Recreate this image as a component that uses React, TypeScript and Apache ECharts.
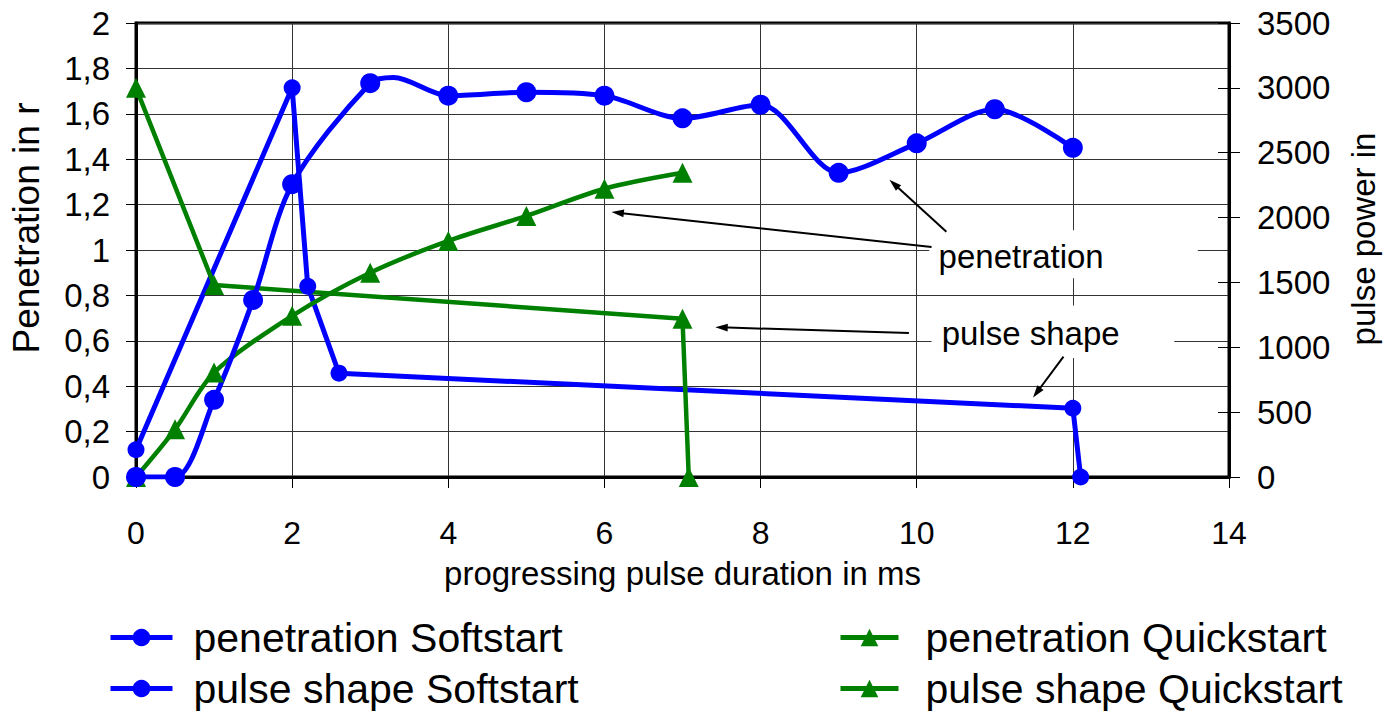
import React, { useEffect, useRef } from "react";
import * as echarts from "echarts";

// ---- data ----
const xTicks = [0, 2, 4, 6, 8, 10, 12, 14];
const penetrationSoftstart: [number, number][] = [
  [0, 0], [0.5, 0], [1, 0.34], [1.5, 0.78], [2, 1.29], [3, 1.735], [4, 1.68],
  [5, 1.695], [6, 1.68], [7, 1.58], [8, 1.64], [9, 1.34], [10, 1.47], [11, 1.62], [12, 1.45],
];
// curve bends between markers (no marker drawn)
const penetrationSoftstartBends: [number, number][] = [[3.3, 1.76]];
const pulseShapeSoftstart: [number, number][] = [
  [0, 210], [2, 3000], [2.2, 1470], [2.6, 800], [12, 530], [12.1, 0],
];
const penetrationQuickstart: [number, number][] = [
  [0, 0], [0.5, 0.21], [1, 0.46], [2, 0.71], [3, 0.9], [4, 1.04], [5, 1.15], [6, 1.27], [7, 1.34],
];
const pulseShapeQuickstart: [number, number][] = [
  [0, 3000], [1, 1480], [7, 1220], [7.08, 0],
];
const seriesNames = [
  "penetration Softstart",
  "pulse shape Softstart",
  "penetration Quickstart",
  "pulse shape Quickstart",
];
// annotation labels (data coords on left axis): text, anchor x, anchor y, box [x0,y0,x1,y1]
const annotationLabels = [
  { text: "penetration", x: 10.28, y: 0.97, box: [10.16, 1.087, 13.6, 0.876] },
  { text: "pulse shape", x: 10.32, y: 0.634, box: [10.19, 0.756, 13.3, 0.524] },
];
// arrows: [fromX, fromY, toX, toY] in data coords (left axis)
const annotationArrows = [
  [10.19, 1.013, 6.09, 1.167],
  [10.38, 1.08, 9.65, 1.31],
  [9.9, 0.634, 7.42, 0.66],
  [11.88, 0.53, 11.49, 0.35],
];

const BLUE = "#0000ff";
const GREEN = "#008000";
const FONT = "Liberation Sans, Arial, sans-serif";

function buildPenSoft() {
  const pts = [
    ...penetrationSoftstart.map((p) => ({ value: p })),
    ...penetrationSoftstartBends.map((p) => ({ value: p, symbol: "none" })),
  ];
  return pts.sort((a, b) => a.value[0] - b.value[0]);
}

export default function App() {
  const ref = useRef<HTMLDivElement>(null);
  useEffect(() => {
    if (!ref.current) return;
    document.body.style.margin = "0";
    const chart = echarts.init(ref.current, undefined, { renderer: "svg" });
    const fmtLeft = (v: number) => String(+v.toFixed(1)).replace(".", ",");
    const option: any = {
      animation: false,
      backgroundColor: "#fff",
      textStyle: { fontFamily: FONT },
      grid: {
        left: 136, right: 157, top: 23, bottom: 237,
        show: true, borderColor: "#000", borderWidth: 3, containLabel: false,
        outerBoundsMode: "none",
      },
      legend: [
        {
          data: [seriesNames[0], seriesNames[1]],
          orient: "vertical", left: 103, top: 612, height: 100, itemGap: 10,
          itemWidth: 62, itemHeight: 22,
          lineStyle: { width: 5 },
          textStyle: { fontSize: 41, color: "#000", fontFamily: FONT, padding: [0, 0, 0, 16] },
        },
        {
          data: [seriesNames[2], seriesNames[3]],
          orient: "vertical", left: 833, top: 612, height: 100, itemGap: 10,
          itemWidth: 58, itemHeight: 22,
          lineStyle: { width: 5 },
          textStyle: { fontSize: 41, color: "#000", fontFamily: FONT, padding: [0, 0, 0, 22] },
        },
      ],
      xAxis: {
        type: "value", min: xTicks[0], max: xTicks[xTicks.length - 1], interval: 2,
        name: "progressing pulse duration in ms", nameLocation: "middle", nameGap: 80,
        nameTextStyle: { fontSize: 33, color: "#000", fontFamily: FONT },
        axisLine: { show: true, lineStyle: { color: "#000", width: 3 } },
        axisTick: { show: true, inside: false, length: 11, lineStyle: { color: "#000", width: 1 } },
        axisLabel: { fontSize: 32, color: "#000", margin: 40, fontFamily: FONT },
        splitLine: { show: true, lineStyle: { color: "#333", width: 1 } },
      },
      yAxis: [
        {
          type: "value", min: 0, max: 2, interval: 0.2, position: "left",
          name: "Penetration in r", nameLocation: "middle", nameGap: 91, nameRotate: 90,
          nameTextStyle: { fontSize: 37, color: "#000", fontFamily: FONT, padding: [0, 0, 0, 44] },
          axisLine: { show: true, lineStyle: { color: "#000", width: 3 } },
          axisTick: { show: true, inside: false, length: 10, lineStyle: { color: "#000", width: 1 } },
          axisLabel: { fontSize: 33, color: "#000", margin: 26, formatter: fmtLeft, fontFamily: FONT },
          splitLine: { show: true, lineStyle: { color: "#333", width: 1 } },
        },
        {
          type: "value", min: 0, max: 3500, interval: 500, position: "right",
          name: "pulse power in", nameLocation: "middle", nameGap: 118, nameRotate: 90,
          nameTextStyle: { fontSize: 33, color: "#000", fontFamily: FONT, padding: [0, 0, 0, 22] },
          axisLine: { show: true, lineStyle: { color: "#000", width: 3 } },
          axisTick: { show: true, inside: false, length: 11, lineStyle: { color: "#000", width: 1 } },
          axisLabel: { fontSize: 33, color: "#000", margin: 28, fontFamily: FONT, formatter: (v: number) => String(v) },
          splitLine: { show: false },
        },
        {
          type: "value", min: 0, max: 3500, interval: 500, position: "right",
          axisLine: { show: false },
          axisTick: { show: true, inside: true, length: 11, lineStyle: { color: "#000", width: 1 } },
          axisLabel: { show: false },
          splitLine: { show: false },
        },
      ],
      series: [
        {
          name: seriesNames[1], type: "line", yAxisIndex: 1, data: pulseShapeSoftstart,
          symbol: "circle", symbolSize: 17, smooth: false,
          lineStyle: { color: BLUE, width: 5 }, itemStyle: { color: BLUE },
        },
        {
          name: seriesNames[3], type: "line", yAxisIndex: 1, data: pulseShapeQuickstart,
          symbol: "triangle", symbolSize: 20, smooth: false,
          lineStyle: { color: GREEN, width: 4.5 }, itemStyle: { color: GREEN },
        },
        {
          name: seriesNames[2], type: "line", yAxisIndex: 0, data: penetrationQuickstart,
          symbol: "triangle", symbolSize: 20, smooth: 0.3,
          lineStyle: { color: GREEN, width: 4.5 }, itemStyle: { color: GREEN },
        },
        {
          name: seriesNames[0], type: "line", yAxisIndex: 0, data: buildPenSoft(),
          symbol: "circle", symbolSize: 20, smooth: 0.3,
          lineStyle: { color: BLUE, width: 5 }, itemStyle: { color: BLUE },
        },
      ],
    };
    chart.setOption(option);

    const px = (x: number, y: number) =>
      chart.convertToPixel({ xAxisIndex: 0, yAxisIndex: 0 }, [x, y]) as number[];
    const graphics: any[] = [];
    annotationLabels.forEach((a) => {
      const p0 = px(a.box[0], a.box[1]);
      const p1 = px(a.box[2], a.box[3]);
      graphics.push({
        type: "rect", z: 50,
        shape: { x: p0[0], y: p0[1], width: p1[0] - p0[0], height: p1[1] - p0[1] },
        style: { fill: "#fff" },
      });
      const t = px(a.x, a.y);
      graphics.push({
        type: "text", z: 51, x: t[0], y: t[1],
        style: { text: a.text, fontSize: 33, fontFamily: FONT, fill: "#000", verticalAlign: "middle", align: "left" },
      });
    });
    annotationArrows.forEach((a) => {
      const f = px(a[0], a[1]);
      const t = px(a[2], a[3]);
      const ang = Math.atan2(t[1] - f[1], t[0] - f[0]);
      const L = 13, W = 0.3;
      const w1 = [t[0] - L * Math.cos(ang - W), t[1] - L * Math.sin(ang - W)];
      const w2 = [t[0] - L * Math.cos(ang + W), t[1] - L * Math.sin(ang + W)];
      graphics.push({
        type: "line", z: 52,
        shape: { x1: f[0], y1: f[1], x2: t[0] - 6 * Math.cos(ang), y2: t[1] - 6 * Math.sin(ang) },
        style: { stroke: "#000", lineWidth: 2 },
      });
      graphics.push({
        type: "polygon", z: 52,
        shape: { points: [t, w1, w2] },
        style: { fill: "#000" },
      });
    });
    chart.setOption({ graphic: graphics });

    return () => chart.dispose();
  }, []);
  return <div ref={ref} style={{ width: 1386, height: 714 }} />;
}
